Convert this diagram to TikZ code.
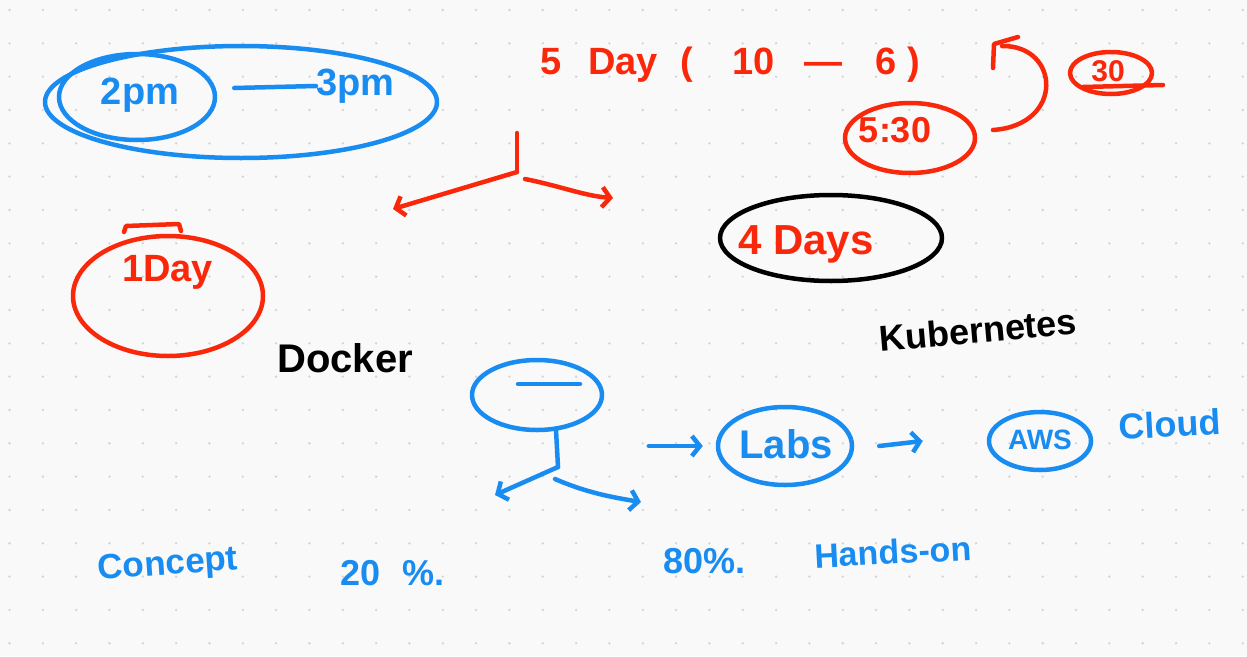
\documentclass[tikz,border=0pt]{standalone}
\usepackage{fontspec}
\setmainfont{Liberation Sans}
\usetikzlibrary{shapes.geometric,arrows.meta}
\definecolor{inkblue}{RGB}{24,140,240}
\definecolor{inkred}{RGB}{250,40,10}
\definecolor{paper}{RGB}{249,249,249}
\definecolor{griddot}{RGB}{212,212,212}
\newcommand{\fs}[1]{\fontsize{#1}{#1}\selectfont\bfseries}
\tikzset{
  ink/.style={line width=4.5pt, line cap=round, line join=round},
  oval/.style={ellipse, draw, ink, inner sep=0pt},
  txt/.style={inner sep=0pt},
  barb/.style={-{Straight Barb[length=8pt,width=20pt,line width=4.5pt]}},
}
\begin{document}
\begin{tikzpicture}[x=1pt,y=-1pt]
\fill[paper] (0,0) rectangle (1247,656);
\useasboundingbox (0,0) rectangle (1247,656);
\foreach \i in {0,...,37} \foreach \j in {0,...,19}
  \fill[griddot] (9.5+33.33*\i, 10+33.33*\j) circle[radius=1.3pt];

% ---- 2pm -- 3pm
\node[oval, inkblue, minimum width=392, minimum height=112] (outer) at (241,102) {};
\node[oval, inkblue, minimum width=156, minimum height=86] (inner) at (137,97) {};
\node[txt, inkblue, font=\fs{38}] (twopm) at (140,95) {2pm};
\node[txt, inkblue, font=\fs{38}, anchor=west] (threepm) at (316,86) {3pm};
\draw[ink, inkblue] (inner.east) ++(17,-9) -- (threepm.west);

% ---- 5 Day (10 - 6)
\node[txt, inkred, font=\fs{38}, anchor=base west] (fiveday) at (540,74)
  {5\hspace{27pt}Day\hspace{22pt}(\hspace{40pt}10\hspace{30pt}—\hspace{33pt}6\hspace{10pt})};

% red fork
\coordinate (redtop) at (517,133);
\coordinate (fork) at (517,172);
\coordinate (redL) at (393,209);
\coordinate (redRs) at (525,179);
\coordinate (redR) at (613,198);
\draw[ink, inkred] (redtop) -- (fork);
\draw[ink, inkred, barb] (fork) -- (redL);
\draw[ink, inkred, barb] (redRs) .. controls (560,186) and (585,196) .. (redR);

% 30 and 5:30
\node[oval, inkred, minimum width=82, minimum height=42] (thirtyell) at (1111,73) {};
\node[txt, inkred, font=\fs{30}] (thirty) at (1108,71) {30};
\coordinate (ulA) at (1083,87);
\coordinate (ulB) at (1163,85);
\draw[ink, inkred] (ulA) -- (ulB);
\node[oval, inkred, minimum width=130, minimum height=70] (fthell) at (910,138) {};
\node[txt, inkred, font=\fs{36}] (fth) at (895,130) {5:30};
\coordinate (cstart) at (993,130);
\coordinate (cend) at (1002,46);
\coordinate (ctip) at (994,44);
\coordinate (cbA) at (993,68);
\coordinate (cbB) at (1018,37);
\draw[ink, inkred] (cstart) .. controls (1065,125) and (1060,45) .. (cend);
\draw[ink, inkred] (cbA) -- (ctip) -- (cbB);

% 4 Days
\node[oval, black, minimum width=222, minimum height=86] (fdell) at (831,238) {};
\node[txt, inkred, font=\fs{42}, anchor=base] (fourdays) at (806,254) {4 Days};

% 1Day
\node[oval, inkred, minimum width=190, minimum height=120] (odell) at (168,296) {};
\coordinate (brA) at (124,232);
\coordinate (brB) at (126,226);
\coordinate (brC) at (179,224);
\coordinate (brD) at (181,231);
\draw[ink, inkred] (brA) -- (brB) -- (brC) -- (brD);
\node[txt, inkred, font=\fs{38}, anchor=base west] (oneday) at (122,281) {1Day};

% Docker / Kubernetes
\node[txt, font=\fs{40}, anchor=base west] (docker) at (277,372) {Docker};
\node[txt, font=\fs{36}, rotate=5] (kube) at (978,330) {Kubernetes};

% blue tree
\node[oval, inkblue, minimum width=130, minimum height=70] (cloud) at (537,395) {};
\coordinate (dashA) at (518,384);
\coordinate (dashB) at (580,384);
\draw[ink, inkblue] (dashA) -- (dashB);
\coordinate (stemtop) at (556,430);
\coordinate (bfork) at (558,467);
\coordinate (bL) at (495,495);
\coordinate (bRs) at (555,479);
\coordinate (bR) at (641,502);
\draw[ink, inkblue] (stemtop) -- (bfork);
\draw[ink, inkblue, barb] (bfork) -- (bL);
\draw[ink, inkblue, barb] (bRs) .. controls (585,492) and (610,497) .. (bR);

% Labs -> AWS Cloud
\node[oval, inkblue, minimum width=134, minimum height=78] (labsell) at (785,446) {};
\node[txt, inkblue, font=\fs{40}] (labs) at (786,444) {Labs};
\node[oval, inkblue, minimum width=102, minimum height=58] (awsell) at (1040,441) {};
\node[txt, inkblue, font=\fs{28}] (aws) at (1040,440) {AWS};
\node[txt, inkblue, font=\fs{36}, rotate=3] (cloudtxt) at (1170,424) {Cloud};
\draw[ink, inkblue, barb] ([xshift=-67pt]labsell.west) -- ([xshift=-13pt]labsell.west);
\draw[ink, inkblue, barb] ([xshift=25pt]labsell.east) -- ([xshift=-64pt]awsell.west);

% bottom labels
\node[txt, inkblue, font=\fs{35}, rotate=4] (concept) at (168,566) {Concept};
\node[txt, inkblue, font=\fs{36}, anchor=base west] (twenty) at (340,585) {20\hspace{22pt}\%.};
\node[txt, inkblue, font=\fs{36}, anchor=base west] (eighty) at (663,573) {80\%.};
\node[txt, inkblue, font=\fs{34}, rotate=3] (hands) at (893,552) {Hands-on};
\end{tikzpicture}
\end{document}
